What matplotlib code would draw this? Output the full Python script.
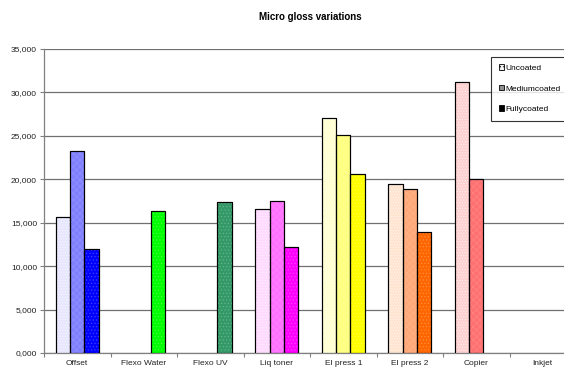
import numpy as np
import matplotlib
matplotlib.use("Agg")
import matplotlib.pyplot as plt
from matplotlib.patches import Patch

plt.rcParams['font.family'] = ['Liberation Sans', 'DejaVu Sans']
plt.rcParams['hatch.linewidth'] = 0.6

categories = ["Offset", "Flexo Water", "Flexo UV", "Liq toner",
              "El press 1", "El press 2", "Copier", "Inkjet"]
series_names = ["Uncoated", "Mediumcoated", "Fullycoated"]
uncoated = [15700, np.nan, np.nan, 16550, 27100, 19400, 31250, np.nan]
mediumcoated = [23200, np.nan, np.nan, 17500, 25100, 18850, 20000, np.nan]
fullycoated = [12000, 16350, 17400, 12150, 20600, 13950, np.nan, np.nan]
ytick_values = [0, 5000, 10000, 15000, 20000, 25000, 30000, 35000]
ytick_labels = ["0,000", "5,000", "10,000", "15,000", "20,000",
                "25,000", "30,000", "35,000"]

# fill colours per category for each coating level
uncoated_colors = ["#e6e6ff", "#ccffcc", "#ccffcc", "#ffd9ff",
                   "#ffffd0", "#ffe4d0", "#ffd0d0", "#ffffff"]
medium_colors = ["#8080ff", "#80ff80", "#66cc99", "#ff70ff",
                 "#ffff80", "#ffa878", "#ff7070", "#ffffff"]
fully_colors = ["#0000ff", "#00ff00", "#339966", "#ff00ff",
                "#ffff00", "#ff6600", "#ff0000", "#ffffff"]

fig = plt.figure(figsize=(5.64, 3.67), dpi=100)
ax = fig.add_axes([44 / 564, 14 / 367, 532 / 564, 304 / 367])

x = np.arange(len(categories))
bw = 0.218
offsets = [-bw, 0.0, bw]
all_values = [uncoated, mediumcoated, fullycoated]
all_colors = [uncoated_colors, medium_colors, fully_colors]
hatches = ["......", "xxxxx", "....."]
hatch_alpha = [0.55, 0.12, 0.2]

for k in range(3):
    vals = np.array(all_values[k], dtype=float)
    ax.bar(x + offsets[k], vals, width=bw, color=all_colors[k],
           edgecolor="#000000", linewidth=0.8, zorder=3)
    ax.bar(x + offsets[k], vals, width=bw, color="none",
           edgecolor="white", hatch=hatches[k], linewidth=0,
           alpha=hatch_alpha[k], zorder=4)
    ax.bar(x + offsets[k], vals, width=bw, color="none",
           edgecolor="#000000", linewidth=0.8, zorder=5)

ax.set_xlim(-0.5, len(categories) - 0.5)
ax.set_ylim(0, 35000)
ax.set_yticks(ytick_values)
ax.set_yticklabels(ytick_labels, fontsize=6, color="#222222")
ax.set_xticks(x)
ax.set_xticklabels(categories, fontsize=6, color="#222222")
ax.set_xticks(np.arange(len(categories) + 1) - 0.5, minor=True)
ax.tick_params(axis="x", which="major", length=0, pad=5)
ax.tick_params(axis="x", which="minor", length=3, color="#808080", width=0.8)
ax.tick_params(axis="y", length=3, color="#808080", width=0.8, pad=2)

ax.yaxis.grid(True, color="#707070", linewidth=0.9, zorder=0)
ax.set_axisbelow(True)
for s in ["top", "right"]:
    ax.spines[s].set_visible(False)
for s in ["left", "bottom"]:
    ax.spines[s].set_color("#808080")
    ax.spines[s].set_linewidth(0.9)

fig.text(310 / 564, 1 - 17 / 367, "Micro gloss variations", ha="center",
         va="center", fontsize=7, fontweight="bold")

handles = [
    Patch(facecolor="#f0f0f0", edgecolor="#000000", hatch="....", linewidth=0.6),
    Patch(facecolor="#909090", edgecolor="#000000", linewidth=0.6),
    Patch(facecolor="#000000", edgecolor="#000000", linewidth=0.6),
]
leg = fig.legend(handles, series_names, loc="upper left",
                 bbox_to_anchor=(491 / 564, 1 - 57 / 367), fontsize=6,
                 frameon=True, fancybox=False, edgecolor="#000000",
                 handlelength=0.6, handleheight=0.6, handletextpad=0.2,
                 labelspacing=1.55, borderpad=0.9, borderaxespad=0)
leg.get_frame().set_linewidth(0.8)

fig.savefig("out.png", dpi=100)
